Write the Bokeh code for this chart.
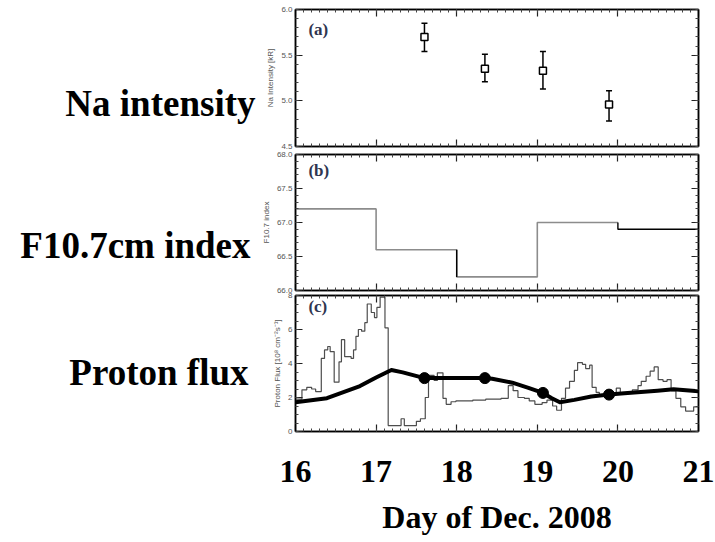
from bokeh.plotting import figure
from bokeh.layouts import column, row
from bokeh.models import (Range1d, LinearAxis, SingleIntervalTicker, Label,
                          ColumnDataSource, Whisker, TeeHead, PrintfTickFormatter)
from bokeh.core.properties import value
from bokeh.embed import file_html
from bokeh.resources import INLINE

# ---------------- data ----------------
day_ticks = [16, 17, 18, 19, 20, 21]
panel_titles = ["Na intensity", "F10.7cm index", "Proton flux"]

# (a) Na intensity [kR]
na_day = [17.60, 18.35, 19.07, 19.89]
na_val = [5.70, 5.35, 5.33, 4.96]
na_hi = [5.85, 5.51, 5.54, 5.11]
na_lo = [5.54, 5.21, 5.13, 4.78]

# (b) F10.7 index, daily values
f107_day = [16, 17, 18, 19, 20]
f107_val = [67.2, 66.6, 66.2, 67.0, 66.9]

# (c) proton flux histogram (bin start day, value), ends at day 21
pf_edge = [16.00, 16.08, 16.14, 16.20, 16.25, 16.32, 16.36, 16.40, 16.43, 16.48,
           16.54, 16.57, 16.61, 16.69, 16.72, 16.75, 16.78, 16.82, 16.86, 16.89,
           16.94, 16.98, 17.01, 17.05, 17.11, 17.15, 17.31, 17.35, 17.50, 17.55,
           17.61, 17.65, 17.72, 17.76, 17.83, 17.87, 17.93, 17.99, 18.20, 18.36,
           18.55, 18.64, 18.70, 18.76, 18.84, 18.90, 18.97, 19.06, 19.12, 19.19,
           19.24, 19.30, 19.35, 19.40, 19.46, 19.50, 19.56, 19.60, 19.65, 19.68,
           19.73, 19.77, 19.98, 20.03, 20.18, 20.25, 20.29, 20.35, 20.40, 20.45,
           20.50, 20.56, 20.61, 20.66, 20.72, 20.78, 20.84, 20.94]
pf_val = [1.9, 2.45, 2.6, 2.5, 2.35, 4.3, 4.8, 5.0, 4.7, 2.9,
          4.1, 5.4, 4.4, 4.3, 4.8, 5.6, 6.0, 5.9, 6.4, 7.5,
          7.0, 6.7, 7.3, 7.9, 6.1, 0.35, 0.75, 0.35, 0.6, 0.75,
          2.0, 3.3, 3.0, 3.45, 1.95, 1.6, 1.75, 1.8, 1.85, 1.9,
          1.95, 2.7, 2.4, 2.0, 1.95, 1.8, 1.6, 1.7, 1.85, 1.5,
          1.25, 1.95, 2.55, 2.95, 3.6, 4.05, 3.95, 3.7, 3.9, 2.6,
          2.3, 2.15, 2.55, 2.25, 2.45, 2.7, 2.95, 3.25, 3.55, 3.8,
          3.05, 2.95, 3.05, 2.4, 1.95, 1.45, 1.2, 1.45]
pf_end = 21.0

# smoothed proton flux curve
sm_day = [16.0, 16.39, 16.80, 17.0, 17.19, 17.33, 17.60, 17.82, 18.35, 18.44,
          18.69, 18.89, 19.07, 19.18, 19.28, 19.46, 19.67, 19.89, 20.08, 20.49,
          20.69, 21.0]
sm_val = [1.72, 1.96, 2.67, 3.18, 3.62, 3.48, 3.14, 3.14, 3.14, 3.10,
          2.87, 2.57, 2.27, 1.96, 1.72, 1.86, 2.06, 2.17, 2.25, 2.40,
          2.49, 2.37]
dot_val = [3.14, 3.14, 2.27, 2.17]

W = 715
H = 542
LEFT_W = 265
SMALL_FONT = "Liberation Sans"
SERIF = "Liberation Serif"


def make_fig(height, yr, ystep, yminor, ylabel, top, bottom, fmt, margin_top=0,
             big_bottom=False):
    p = figure(width=W, height=height, output_backend="svg", toolbar_location=None,
               x_range=Range1d(16, 21), y_range=Range1d(*yr),
               min_border_left=295, min_border_right=17,
               min_border_top=top, min_border_bottom=bottom,
               x_axis_location=None, y_axis_location=None,
               margin=(margin_top, 0, 0, 0))
    p.grid.visible = False
    p.outline_line_color = "black"
    p.outline_line_width = 1.5
    p.background_fill_color = "white"
    p.border_fill_color = None

    def xt():
        return SingleIntervalTicker(interval=1, num_minor_ticks=10)

    def yt():
        return SingleIntervalTicker(interval=ystep, num_minor_ticks=yminor)

    def style(ax, labels=False, keys=()):
        ax.axis_line_color = "black"
        ax.axis_line_width = 1.5
        ax.major_tick_in = 7
        ax.major_tick_out = 0
        ax.minor_tick_in = 3
        ax.minor_tick_out = 0
        ax.major_tick_line_color = "#222222"
        ax.minor_tick_line_color = "#444444"
        ax.major_tick_line_width = 1.2
        ax.minor_tick_line_width = 1
        if not labels:
            ax.major_label_overrides = {k: "" for k in keys}
            ax.major_label_text_font_size = "0px"
            ax.major_label_standoff = 0

    yticks = []
    v = yr[0]
    while v <= yr[1] + 1e-9:
        yticks.append(round(v, 3))
        v += ystep

    la = LinearAxis(ticker=yt(), axis_label=ylabel)
    style(la, labels=True)
    la.formatter = PrintfTickFormatter(format=fmt)
    la.major_label_text_font = SMALL_FONT
    la.major_label_text_font_size = "8px"
    la.major_label_text_color = "#555555"
    la.major_label_standoff = 3
    la.axis_label_text_font = SMALL_FONT
    la.axis_label_text_font_size = "8px"
    la.axis_label_text_font_style = "normal"
    la.axis_label_text_color = "#555555"
    la.axis_label_standoff = 3
    p.add_layout(la, "left")

    ra = LinearAxis(ticker=yt())
    style(ra, keys=yticks)
    p.add_layout(ra, "right")

    ta = LinearAxis(ticker=xt())
    style(ta, keys=day_ticks)
    p.add_layout(ta, "above")

    ba = LinearAxis(ticker=xt())
    style(ba, labels=big_bottom, keys=day_ticks)
    if big_bottom:
        ba.major_label_text_font = SERIF
        ba.major_label_text_font_style = "bold"
        ba.major_label_text_font_size = "32px"
        ba.major_label_text_color = "black"
        ba.major_label_standoff = 29
        ba.axis_label = "Day of Dec. 2008"
        ba.axis_label_text_font = SERIF
        ba.axis_label_text_font_style = "bold"
        ba.axis_label_text_font_size = "32px"
        ba.axis_label_text_color = "black"
        ba.axis_label_standoff = 14
    p.add_layout(ba, "below")
    return p


def panel_label(p, x, y, text):
    p.add_layout(Label(x=x, y=y, text=text, text_align="left",
                       text_baseline="middle", text_font=SERIF,
                       text_font_style="bold", text_font_size="17px",
                       text_color="#2f3550"))


# ---------------- left text column (big titles) ----------------
pl = figure(width=LEFT_W, height=H, output_backend="svg", toolbar_location=None,
            x_range=Range1d(0, LEFT_W), y_range=Range1d(H, 0),
            min_border=0, x_axis_location=None, y_axis_location=None)
pl.grid.visible = False
pl.outline_line_color = None
pl.background_fill_color = None
pl.border_fill_color = None
pl.text(x=[255, 250, 248], y=[103, 245, 372], text=panel_titles,
        text_align="right", text_baseline="alphabetic",
        text_font=value(SERIF), text_font_style="bold",
        text_font_size="37px", text_color="black")

# ---------------- panel (a) ----------------  canvas 0..156
pa = make_fig(156, (4.5, 6.0), 0.5, 5, "Na Intensity [kR]", 9, 10, "%.1f")
src = ColumnDataSource(dict(x=na_day, y=na_val, hi=na_hi, lo=na_lo))
pa.add_layout(Whisker(source=src, base="x", upper="hi", lower="lo",
                      line_color="black", line_width=1.5,
                      upper_head=TeeHead(size=6, line_width=1.5, line_color="black"),
                      lower_head=TeeHead(size=6, line_width=1.5, line_color="black")))
pa.scatter("x", "y", source=src, marker="square", size=7, fill_color="white",
           line_color="black", line_width=1.5)
panel_label(pa, 16.16, 5.78, "(a)")

# ---------------- panel (b) ----------------  canvas 144..300
pb = make_fig(156, (66.0, 68.0), 0.5, 5, "F10.7 index", 10, 10, "%.1f", margin_top=-12)
gx = f107_day[:4] + [f107_day[4]]
gy = f107_val[:4] + [f107_val[3]]
pb.step(gx, gy, mode="after", line_color="#8c8c8c", line_width=1.6)
pb.segment(x0=[f107_day[2]], y0=[f107_val[1]], x1=[f107_day[2]], y1=[f107_val[2]],
           line_color="black", line_width=1.4)
pb.line([f107_day[4], f107_day[4], 21], [f107_val[3], f107_val[4], f107_val[4]],
        line_color="black", line_width=1.4)
panel_label(pb, 16.16, 67.76, "(b)")

# ---------------- panel (c) ----------------  canvas 285..542
pc = make_fig(257, (0, 8), 2, 4, "Proton Flux [10\u2078 cm\u207b\u00b2s\u207b\u00b9]", 10, 111,
              "%d", margin_top=-15, big_bottom=True)
hx = pf_edge + [pf_end]
hy = pf_val + [pf_val[-1]]
pc.step(hx, hy, mode="after", line_color="#4d4d4d", line_width=1.2)
pc.line(sm_day, sm_val, line_color="black", line_width=4, line_join="round")
pc.scatter(na_day, dot_val, marker="circle", size=11, fill_color="black",
           line_color="black")
panel_label(pc, 16.16, 7.37, "(c)")

panels = column(pa, pb, pc, spacing=0, margin=(0, 0, 0, -LEFT_W))
layout = row(pl, panels, spacing=0)
open("out.html", "w").write(file_html(layout, INLINE))
